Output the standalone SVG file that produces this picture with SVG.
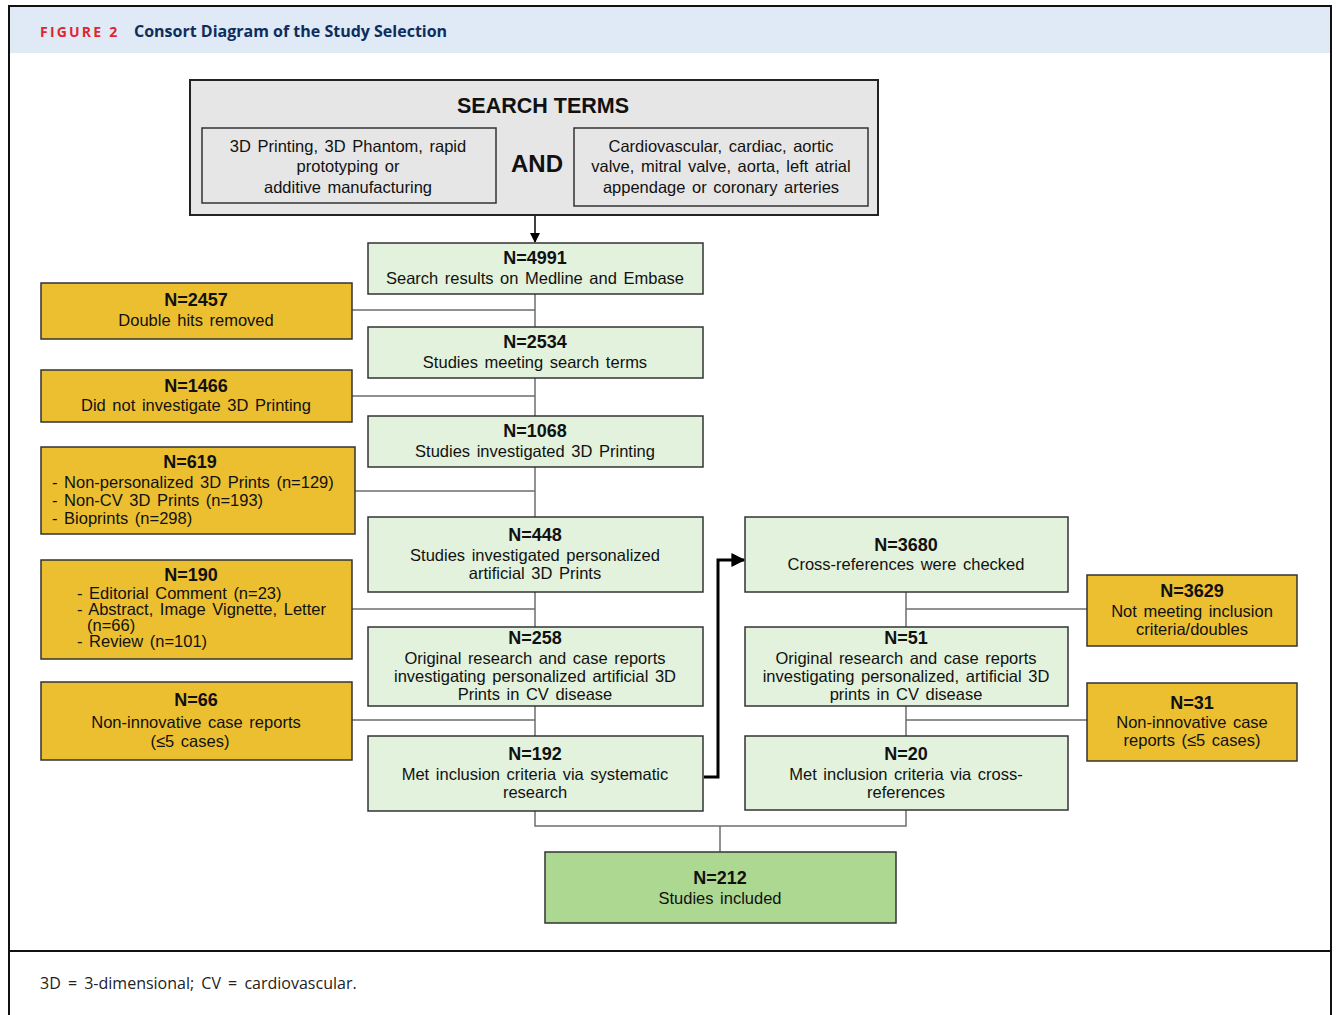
<svg xmlns="http://www.w3.org/2000/svg" width="1336" height="1015" viewBox="0 0 1336 1015">
<defs>
<style>
.t{font-family:"Liberation Sans",Arial,sans-serif;font-size:16.5px;word-spacing:2px;fill:#111;text-anchor:middle}
.b{font-weight:bold;font-size:18px;word-spacing:0}
.l{text-anchor:start}
.g{fill:#e2f2dc;stroke:#333;stroke-width:1.5}
.y{fill:#ebbf30;stroke:#333;stroke-width:1.5}
.c{fill:none;stroke:#6e6e6e;stroke-width:1.5}
</style>
<marker id="ah" viewBox="0 0 10 10" refX="9" refY="5" markerWidth="10" markerHeight="10" markerUnits="userSpaceOnUse" orient="auto"><path d="M0,0 L10,5 L0,10 z" fill="#000"/></marker>
<marker id="ah2" viewBox="0 0 10 10" refX="9" refY="5" markerWidth="14" markerHeight="14" markerUnits="userSpaceOnUse" orient="auto"><path d="M0,0 L10,5 L0,10 z" fill="#000"/></marker>
</defs>
<rect width="1336" height="1015" fill="#fff"/>
<g id="frame">
<rect x="9" y="7" width="1322" height="46" fill="#dfeaf6"/>
<path d="M9,1015 V6 H1331 V1015" fill="none" stroke="#111" stroke-width="2"/>
<line x1="9" y1="951" x2="1331" y2="951" stroke="#111" stroke-width="2"/>
<text x="40" y="37" style="font-family:'Open Sans','Liberation Sans',sans-serif;font-weight:bold;font-size:14px;fill:#e0262f;letter-spacing:2.2px">FIGURE 2</text>
<text x="134" y="37" style="font-family:'Open Sans','Liberation Sans',sans-serif;font-weight:bold;font-size:16px;fill:#0e2d5c">Consort Diagram of the Study Selection</text>
<text x="40" y="989" style="font-family:'Open Sans','Liberation Sans',sans-serif;font-size:16px;word-spacing:3px;fill:#222">3D = 3-dimensional; CV = cardiovascular.</text>
</g>
<g id="connectors">
<line x1="535" y1="215" x2="535" y2="242" stroke="#000" stroke-width="1.5" marker-end="url(#ah)"/>
<path class="c" d="M535,294 V736"/>
<path class="c" d="M352,310 H535 M352,396 H535 M355,491 H535 M352,609 H535 M352,720 H535"/>
<path class="c" d="M906,592 V736 M906,609 H1087 M906,720 H1087"/>
<path class="c" d="M535,811 V826 H906 V810 M720,826 V852"/>
<path d="M704,777 H718 V560 H744" fill="none" stroke="#000" stroke-width="3" marker-end="url(#ah2)"/>
</g>
<g id="search-terms">
<rect x="190" y="80" width="688" height="135" fill="#e6e6e6" stroke="#222" stroke-width="2"/>
<text class="t b" x="543" y="113" style="font-size:21.5px">SEARCH TERMS</text>
<rect x="202" y="128" width="294" height="75" fill="#e6e6e6" stroke="#333" stroke-width="1.5"/>
<text class="t" x="348" y="152">3D Printing, 3D Phantom, rapid</text>
<text class="t" x="348" y="172">prototyping or</text>
<text class="t" x="348" y="193">additive manufacturing</text>
<text class="t b" x="537" y="172" style="font-size:24px">AND</text>
<rect x="574" y="128" width="294" height="78" fill="#e6e6e6" stroke="#333" stroke-width="1.5"/>
<text class="t" x="721" y="152">Cardiovascular, cardiac, aortic</text>
<text class="t" x="721" y="172">valve, mitral valve, aorta, left atrial</text>
<text class="t" x="721" y="193">appendage or coronary arteries</text>
</g>
<g id="n4991"><rect class="g" x="368" y="243" width="335" height="51"/>
<text class="t b" x="535" y="264">N=4991</text><text class="t" x="535" y="284">Search results on Medline and Embase</text></g>
<g id="n2534"><rect class="g" x="368" y="327" width="335" height="51"/>
<text class="t b" x="535" y="348">N=2534</text><text class="t" x="535" y="368">Studies meeting search terms</text></g>
<g id="n1068"><rect class="g" x="368" y="416" width="335" height="51"/>
<text class="t b" x="535" y="437">N=1068</text><text class="t" x="535" y="457">Studies investigated 3D Printing</text></g>
<g id="n448"><rect class="g" x="368" y="517" width="335" height="75"/>
<text class="t b" x="535" y="541">N=448</text><text class="t" x="535" y="561">Studies investigated personalized</text><text class="t" x="535" y="579">artificial 3D Prints</text></g>
<g id="n258"><rect class="g" x="368" y="627" width="335" height="79"/>
<text class="t b" x="535" y="644">N=258</text><text class="t" x="535" y="664">Original research and case reports</text><text class="t" x="535" y="682">investigating personalized artificial 3D</text><text class="t" x="535" y="700">Prints in CV disease</text></g>
<g id="n192"><rect class="g" x="368" y="736" width="335" height="75"/>
<text class="t b" x="535" y="760">N=192</text><text class="t" x="535" y="780">Met inclusion criteria via systematic</text><text class="t" x="535" y="798">research</text></g>
<g id="n3680"><rect class="g" x="745" y="517" width="323" height="75"/>
<text class="t b" x="906" y="551">N=3680</text><text class="t" x="906" y="570">Cross-references were checked</text></g>
<g id="n51"><rect class="g" x="745" y="627" width="323" height="79"/>
<text class="t b" x="906" y="644">N=51</text><text class="t" x="906" y="664">Original research and case reports</text><text class="t" x="906" y="682">investigating personalized, artificial 3D</text><text class="t" x="906" y="700">prints in CV disease</text></g>
<g id="n20"><rect class="g" x="745" y="736" width="323" height="74"/>
<text class="t b" x="906" y="760">N=20</text><text class="t" x="906" y="780">Met inclusion criteria via cross-</text><text class="t" x="906" y="798">references</text></g>
<g id="n212"><rect x="545" y="852" width="351" height="71" fill="#acd892" stroke="#333" stroke-width="1.5"/>
<text class="t b" x="720" y="884">N=212</text><text class="t" x="720" y="904">Studies included</text></g>
<g id="n2457"><rect class="y" x="41" y="283" width="311" height="56"/>
<text class="t b" x="196" y="306">N=2457</text><text class="t" x="196" y="326">Double hits removed</text></g>
<g id="n1466"><rect class="y" x="41" y="370" width="311" height="52"/>
<text class="t b" x="196" y="392">N=1466</text><text class="t" x="196" y="411">Did not investigate 3D Printing</text></g>
<g id="n619"><rect class="y" x="41" y="447" width="314" height="87"/>
<text class="t b" x="190" y="468">N=619</text>
<text class="t l" x="52" y="488">- Non-personalized 3D Prints (n=129)</text>
<text class="t l" x="52" y="506">- Non-CV 3D Prints (n=193)</text>
<text class="t l" x="52" y="524">- Bioprints (n=298)</text></g>
<g id="n190"><rect class="y" x="41" y="560" width="311" height="99"/>
<text class="t b" x="191" y="581">N=190</text>
<text class="t l" x="77" y="599">- Editorial Comment (n=23)</text>
<text class="t l" x="77" y="615">- Abstract, Image Vignette, Letter</text>
<text class="t l" x="87" y="631">(n=66)</text>
<text class="t l" x="77" y="647">- Review (n=101)</text></g>
<g id="n66"><rect class="y" x="41" y="682" width="311" height="78"/>
<text class="t b" x="196" y="706">N=66</text><text class="t" x="196" y="728">Non-innovative case reports</text><text class="t" x="190" y="747">(≤5 cases)</text></g>
<g id="n3629"><rect class="y" x="1087" y="575" width="210" height="71"/>
<text class="t b" x="1192" y="597">N=3629</text><text class="t" x="1192" y="617">Not meeting inclusion</text><text class="t" x="1192" y="635">criteria/doubles</text></g>
<g id="n31"><rect class="y" x="1087" y="683" width="210" height="78"/>
<text class="t b" x="1192" y="709">N=31</text><text class="t" x="1192" y="728">Non-innovative case</text><text class="t" x="1192" y="746">reports (≤5 cases)</text></g>
</svg>
